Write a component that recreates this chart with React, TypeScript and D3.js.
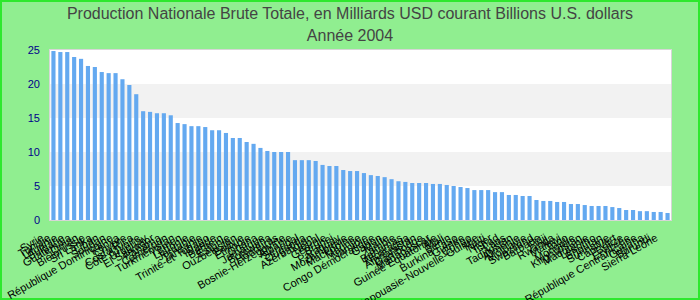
import React from "react";
import * as d3 from "d3";

const titleLines = [
  "Production Nationale Brute Totale, en Milliards USD courant Billions U.S. dollars",
  "Année 2004",
];

const countries = [
  "Syrie", "Tunisie", "Lituanie", "Bulgarie", "Guatemala", "Oman", "Biélorussie", "Sri Lanka", "Liban", "Soudan",
  "République Dominicaine", "Kenya", "Chypre", "Costa Rica", "Côte d'Ivoire", "Uruguay", "El Salvador", "Panama", "Cameroun", "Turkménistan",
  "Yémen", "Lettonie", "Jordanie", "Tanzanie", "Trinité-et-Tobago", "Islande", "Bahreïn", "Estonie", "Ouzbékistan", "Bolivie",
  "Éthiopie", "Ghana", "Jamaïque", "Botswana", "Honduras", "Bosnie-Herzégovine", "Albanie", "Sénégal", "Ouganda", "Azerbaïdjan",
  "Népal", "Géorgie", "Brunei", "Paraguay", "Mozambique", "Macédoine", "Maurice", "Namibie", "Congo Démocratique", "Gabon",
  "Malte", "Zambie", "Bahamas", "Nicaragua", "Afghanistan", "Cambodge", "Madagascar", "Guinée Équatoriale", "Mali", "Bénin",
  "Burkina Faso", "Guinée", "Congo", "Papouasie-Nouvelle-Guinée", "Haïti", "Niger", "Tchad", "Laos", "Tadjikistan", "Arménie",
  "Moldavie", "Swaziland", "Barbade", "Fidji", "Rwanda", "Malawi", "Togo", "Mongolie", "Kirghizistan", "Mauritanie",
  "Lesotho", "Bhoutan", "Suriname", "Cap-Vert", "Belize", "Érythrée", "République Centrafricaine", "Guyana", "Burundi", "Sierra Leone",
];

const values = [
  24.85, 24.7, 24.7, 23.97, 23.7, 22.65, 22.5, 21.76, 21.6, 21.6,
  20.7, 19.85, 18.5, 16.0, 15.9, 15.7, 15.7, 15.4, 14.26, 14.1,
  13.8, 13.8, 13.67, 13.2, 13.2, 12.8, 12.06, 12.06, 11.47, 11.2,
  10.6, 10.15, 10.0, 10.0, 10.0, 8.8, 8.8, 8.8, 8.68, 8.1,
  7.94, 7.94, 7.35, 7.2, 7.2, 6.9, 6.6, 6.47, 6.3, 6.0,
  5.7, 5.6, 5.44, 5.44, 5.44, 5.3, 5.3, 5.15, 5.0, 4.85,
  4.7, 4.4, 4.4, 4.4, 4.1, 4.1, 3.68, 3.68, 3.53, 3.53,
  2.94, 2.8, 2.8, 2.65, 2.65, 2.35, 2.35, 2.2, 2.06, 2.06,
  2.06, 1.9, 1.76, 1.47, 1.47, 1.3, 1.3, 1.18, 1.18, 1.03,
];

const yTicks = [0, 5, 10, 15, 20, 25];

const W = 700;
const H = 300;
const plot = { left: 50, right: 671, top: 50, bottom: 220 };
const FONT = "'Liberation Sans', Arial, Helvetica, sans-serif";

export default function App() {
  const x = d3
    .scaleBand<number>()
    .domain(d3.range(values.length))
    .range([plot.left, plot.right])
    .paddingInner(0.4)
    .paddingOuter(0.2);
  const y = d3.scaleLinear().domain([0, 25]).range([plot.bottom, plot.top]);

  const bands = yTicks.slice(0, -1).map((t, i) => ({ lo: t, hi: yTicks[i + 1], grey: i % 2 === 1 }));

  return (
    <div style={{ position: "fixed", left: 0, top: 0 }}>
      <svg width={W} height={H} style={{ display: "block" }}>
        <rect x={0} y={0} width={W} height={H} fill="#90EE90" />
        <rect x={1} y={1} width={W - 2} height={H - 2} fill="none" stroke="#2ee82e" strokeWidth={2} />
        {titleLines.map((t, i) => (
          <text
            key={i}
            x={W / 2}
            y={19 + i * 22}
            textAnchor="middle"
            fontFamily={FONT}
            fontSize={16}
            fill="#444444"
          >
            {t}
          </text>
        ))}
        <rect
          x={plot.left}
          y={plot.top}
          width={plot.right - plot.left}
          height={plot.bottom - plot.top}
          fill="#ffffff"
        />
        {bands
          .filter((b) => b.grey)
          .map((b, i) => (
            <rect
              key={i}
              x={plot.left}
              y={y(b.hi)}
              width={plot.right - plot.left}
              height={y(b.lo) - y(b.hi)}
              fill="#f2f2f2"
            />
          ))}
        {values.map((v, i) => (
          <rect
            key={i}
            x={x(i)}
            y={y(v)}
            width={x.bandwidth()}
            height={y(0) - y(v)}
            fill="#64a9f0"
          />
        ))}
        <rect
          x={plot.left - 0.5}
          y={plot.top - 0.5}
          width={plot.right - plot.left + 1}
          height={plot.bottom - plot.top + 1}
          fill="none"
          stroke="#d6d6d6"
          strokeWidth={1}
        />
        {yTicks.map((t) => (
          <text
            key={t}
            x={40}
            y={y(t)}
            dy="0.35em"
            textAnchor="end"
            fontFamily={FONT}
            fontSize={11}
            fill="#00008B"
          >
            {t}
          </text>
        ))}
        {countries.map((c, i) => {
          const cx = (x(i) as number) + x.bandwidth() / 2 - 9;
          const cy = 240;
          return (
            <text
              key={i}
              x={cx}
              y={cy}
              textAnchor="end"
              transform={`rotate(-30, ${cx}, ${cy})`}
              fontFamily={FONT}
              fontSize={11}
              fill="#000000"
            >
              {c}
            </text>
          );
        })}
      </svg>
    </div>
  );
}
